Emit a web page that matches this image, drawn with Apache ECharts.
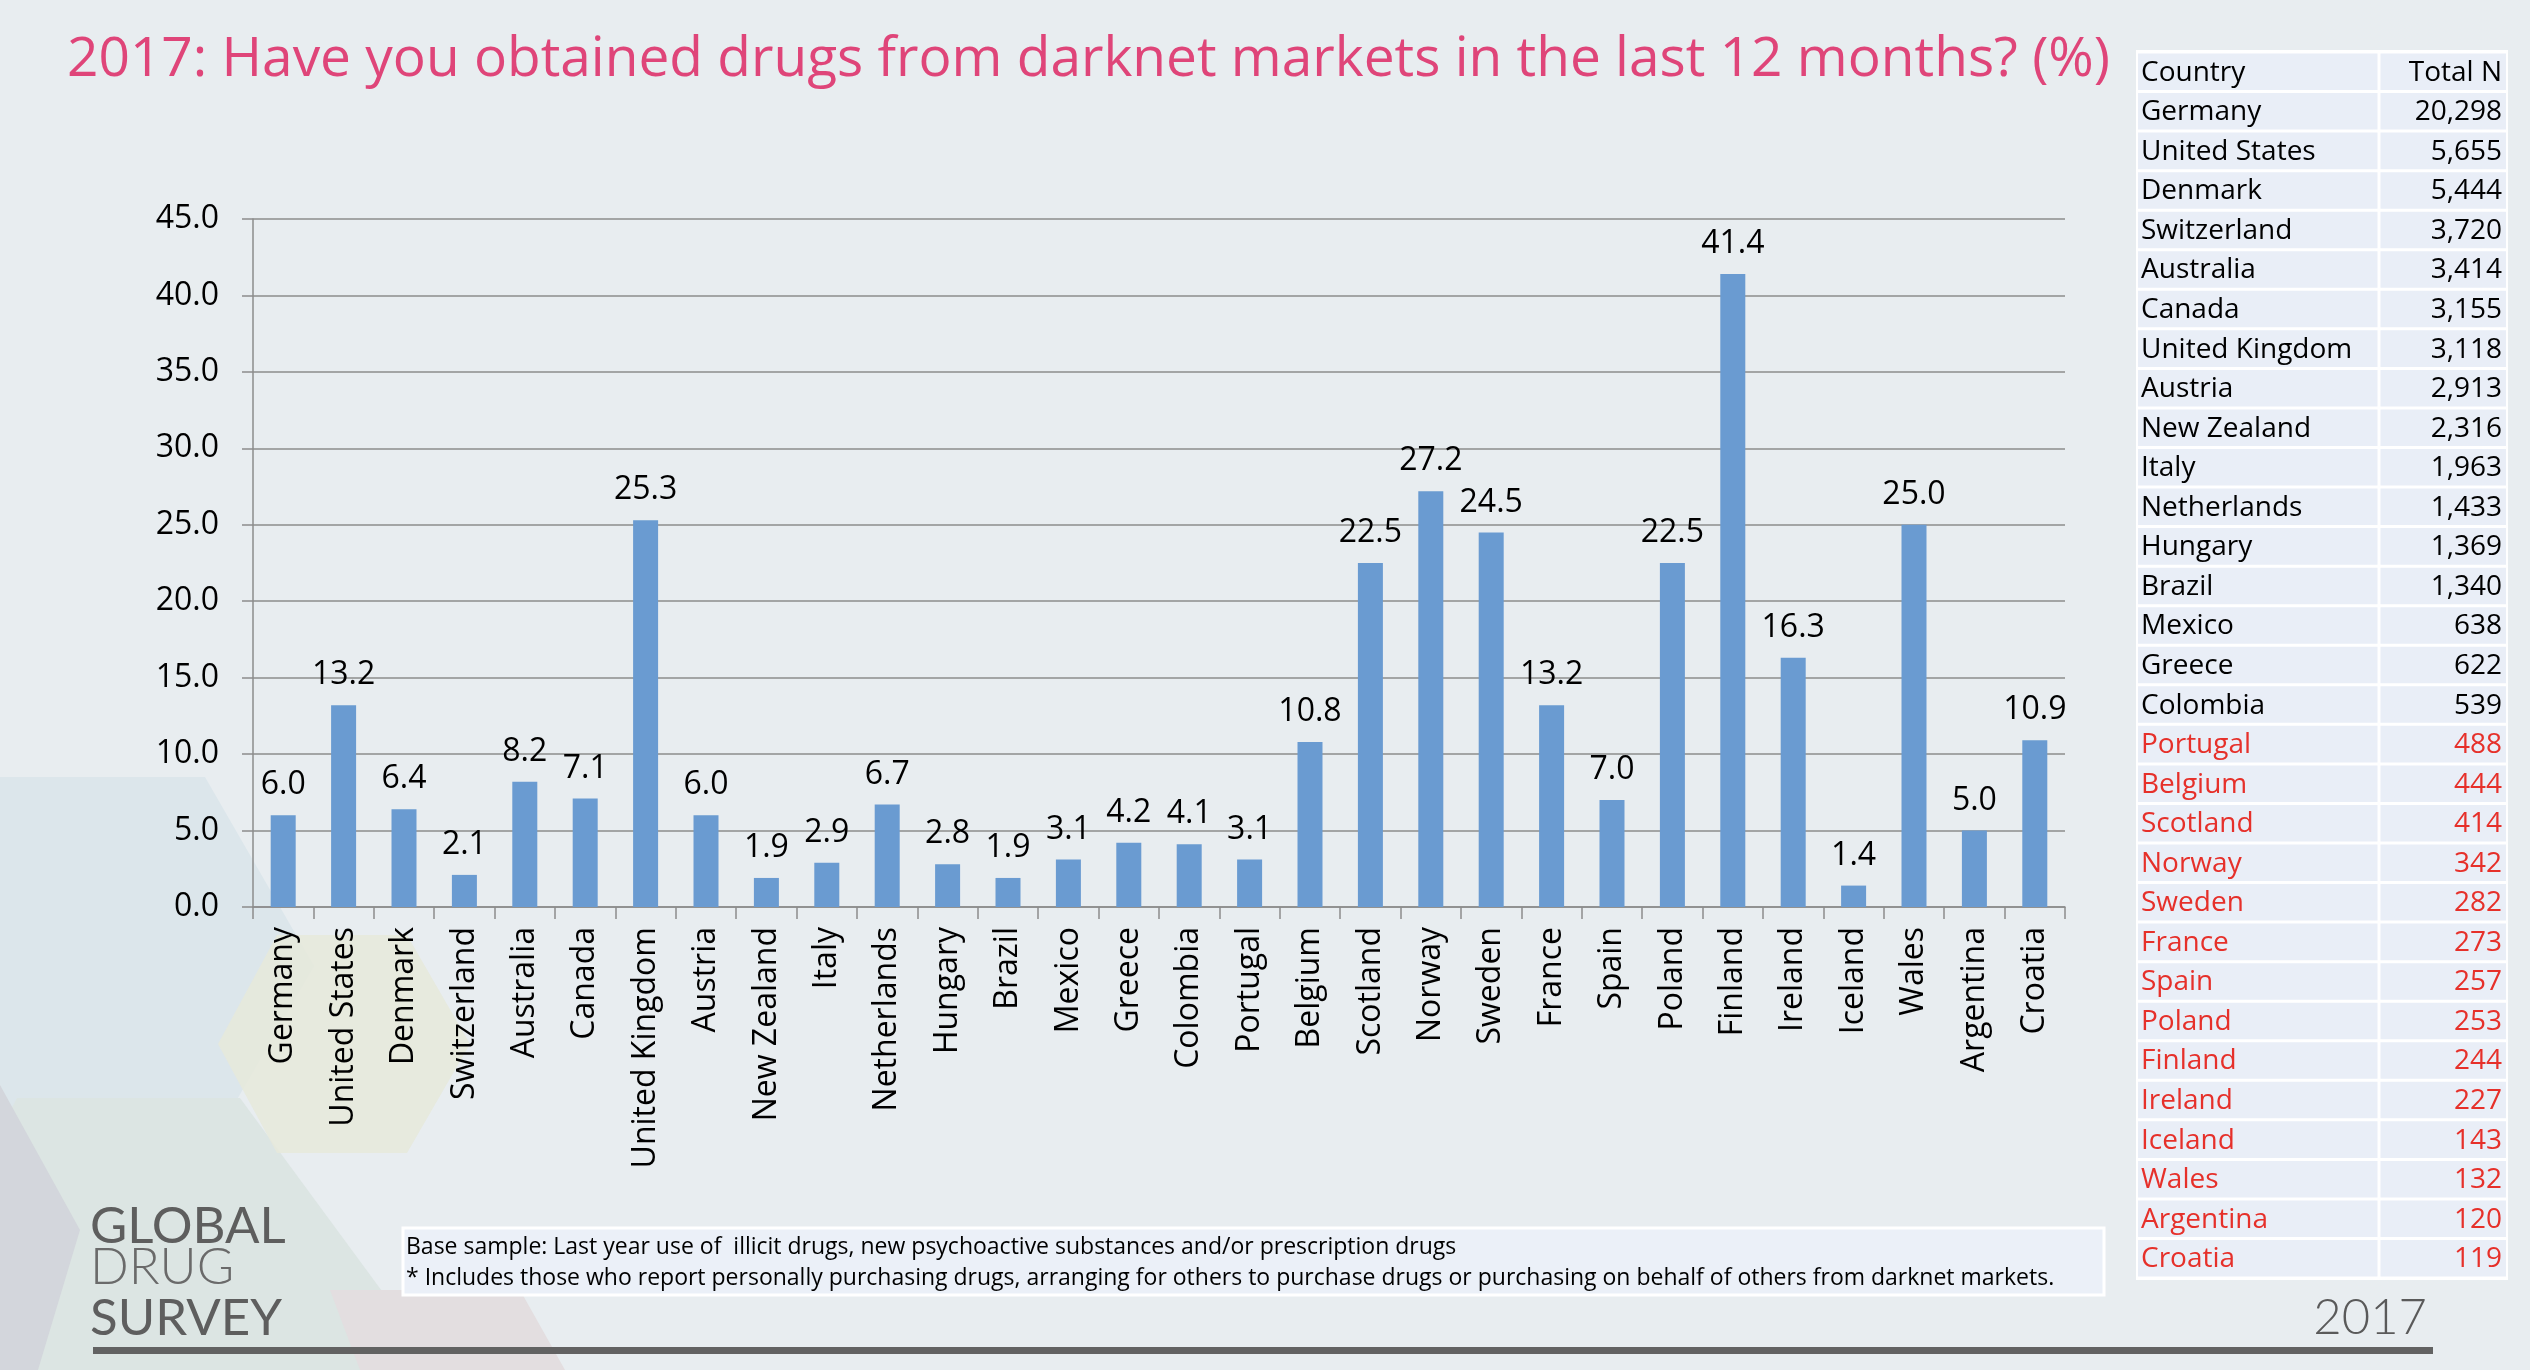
<!DOCTYPE html>
<html>
<head>
<meta charset="utf-8">
<style>
html,body{margin:0;padding:0;background:#E8EDF0;}
#chart{width:2530px;height:1370px;}
</style>
<script src="https://cdn.jsdelivr.net/npm/echarts@6/dist/echarts.min.js"></script>
</head>
<body>
<div id="chart"></div>
<script>
// ---- data ----
var countries = ["Germany","United States","Denmark","Switzerland","Australia","Canada","United Kingdom","Austria","New Zealand","Italy","Netherlands","Hungary","Brazil","Mexico","Greece","Colombia","Portugal","Belgium","Scotland","Norway","Sweden","France","Spain","Poland","Finland","Ireland","Iceland","Wales","Argentina","Croatia"];
var percentObtained = [6.0,13.2,6.4,2.1,8.2,7.1,25.3,6.0,1.9,2.9,6.7,2.8,1.9,3.1,4.2,4.1,3.1,10.8,22.5,27.2,24.5,13.2,7.0,22.5,41.4,16.3,1.4,25.0,5.0,10.9];
var totalN = [20298,5655,5444,3720,3414,3155,3118,2913,2316,1963,1433,1369,1340,638,622,539,488,444,414,342,282,273,257,253,244,227,143,132,120,119];
var yTicks = {min:0, max:45, interval:5};
var titleText = "2017: Have you obtained drugs from darknet markets in the last 12 months? (%)";
var footLines = ["Base sample: Last year use of  illicit drugs, new psychoactive substances and/or prescription drugs",
                 "* Includes those who report personally purchasing drugs, arranging for others to purchase drugs or purchasing on behalf of others from darknet markets."];
var tableHeader = ["Country","Total N"];
var smallSampleLimit = 500;

// ---- layout/style ----
var FONT = "'Open Sans', 'Noto Sans', sans-serif";
var LOGO_FONT = "Lato, 'Open Sans', sans-serif";
var chart = echarts.init(document.getElementById('chart'), null, {renderer:'canvas'});

var graphics = [];
// background decorations
function poly(points, fill){ graphics.push({type:'polygon', z:-10, silent:true, shape:{points:points}, style:{fill:fill}}); }
poly([[-130,777],[205,777],[314,966],[205,1155],[-130,1155]], '#DCE6EB');
poly([[17,1098],[240,1098],[440,1370],[0,1370],[0,1130]], '#DCE5E3');
poly([[277,935],[407,935],[470,1044],[407,1153],[277,1153],[218,1044]], 'rgba(230,233,218,0.85)');
poly([[0,1085],[80,1230],[38,1370],[0,1370]], '#D3D6DC');
poly([[330,1290],[520,1290],[565,1370],[360,1370]], '#E3DEE0');

// title
graphics.push({type:'text', x:67, y:60, style:{text:titleText, font:'55px '+FONT, fill:'#DF4579', textAlign:'left', textVerticalAlign:'middle'}});

// footnote box
graphics.push({type:'rect', shape:{x:403, y:1228, width:1701, height:67}, style:{fill:'#EBF0F8', stroke:'#FFFFFF', lineWidth:3}});
graphics.push({type:'text', x:406, y:1247, style:{text:footLines[0], font:'23px '+FONT, fill:'#000', textAlign:'left', textVerticalAlign:'middle'}});
graphics.push({type:'text', x:406, y:1278, style:{text:footLines[1], font:'23px '+FONT, fill:'#000', textAlign:'left', textVerticalAlign:'middle'}});

// table
var tTop = 52, tLeft = 2136, tRight = 2508, tDiv = 2379, rowH = 39.55;
var nRows = countries.length + 1;
graphics.push({type:'rect', shape:{x:tLeft, y:tTop-2, width:tRight-tLeft, height:nRows*rowH+4}, style:{fill:'#FFFFFF'}});
for (var r = 0; r < nRows; r++) {
  var y0 = tTop + r*rowH;
  graphics.push({type:'rect', shape:{x:tLeft+2, y:y0+1.5, width:tDiv-tLeft-3.5, height:rowH-3}, style:{fill:'#E9EEF7'}});
  graphics.push({type:'rect', shape:{x:tDiv+1.5, y:y0+1.5, width:tRight-tDiv-3.5, height:rowH-3}, style:{fill:'#E9EEF7'}});
  var name, val, col = '#000';
  if (r === 0) { name = tableHeader[0]; val = tableHeader[1]; }
  else {
    name = countries[r-1]; val = totalN[r-1].toLocaleString('en-US');
    if (totalN[r-1] < smallSampleLimit) col = '#E6302A';
  }
  graphics.push({type:'text', x:2141, y:y0+rowH/2+1, style:{text:name, font:'28px '+FONT, fill:col, textAlign:'left', textVerticalAlign:'middle'}});
  graphics.push({type:'text', x:2502, y:y0+rowH/2+1, style:{text:val, font:'28px '+FONT, fill:col, textAlign:'right', textVerticalAlign:'middle'}});
}

// logo
graphics.push({type:'text', x:90, y:1227, style:{text:'GLOBAL', font:'400 51px '+LOGO_FONT, fill:'#5E5E5E', textAlign:'left', textVerticalAlign:'middle'}});
graphics.push({type:'text', x:90, y:1268, style:{text:'DRUG', font:'300 51px '+LOGO_FONT, fill:'#6A6A6A', textAlign:'left', textVerticalAlign:'middle'}});
graphics.push({type:'text', x:90, y:1319, style:{text:'SURVEY', font:'400 51px '+LOGO_FONT, fill:'#5E5E5E', textAlign:'left', textVerticalAlign:'middle'}});
graphics.push({type:'text', x:2427, y:1318, style:{text:'2017', font:'300 49px '+LOGO_FONT, fill:'#5A5A5A', textAlign:'right', textVerticalAlign:'middle'}});
graphics.push({type:'rect', shape:{x:93, y:1347, width:2340, height:7}, style:{fill:'#626262'}});

var axisGray = '#8C8C8C';
chart.setOption({
  backgroundColor: '#E8EDF0',
  animation: false,
  textStyle: {fontFamily: FONT},
  grid: {left:253, right:465, top:219, bottom:463, containLabel:false},
  xAxis: {
    type:'category', data: countries,
    axisLine:{show:true, lineStyle:{color:axisGray, width:1.5}},
    axisTick:{show:true, length:12, lineStyle:{color:axisGray, width:1.5}},
    axisLabel:{rotate:90, interval:0, fontSize:32, color:'#000', margin:20, fontFamily:FONT}
  },
  yAxis: {
    type:'value', min:yTicks.min, max:yTicks.max, interval:yTicks.interval,
    axisLine:{show:true, lineStyle:{color:axisGray, width:1.5}},
    axisTick:{show:true, length:11, lineStyle:{color:axisGray, width:1.5}},
    splitLine:{show:true, lineStyle:{color:axisGray, width:1.5}},
    axisLabel:{fontSize:32, color:'#000', margin:34, fontFamily:FONT, formatter:function(v){return v.toFixed(1);}}
  },
  series: [{
    type:'bar', data: percentObtained, barWidth:25,
    itemStyle:{color:'#6A9BD1'},
    label:{show:true, position:'top', distance:14, fontSize:32, color:'#000', fontFamily:FONT, formatter:function(p){return p.value.toFixed(1);}}
  }],
  graphic: graphics
});
</script>
</body>
</html>
